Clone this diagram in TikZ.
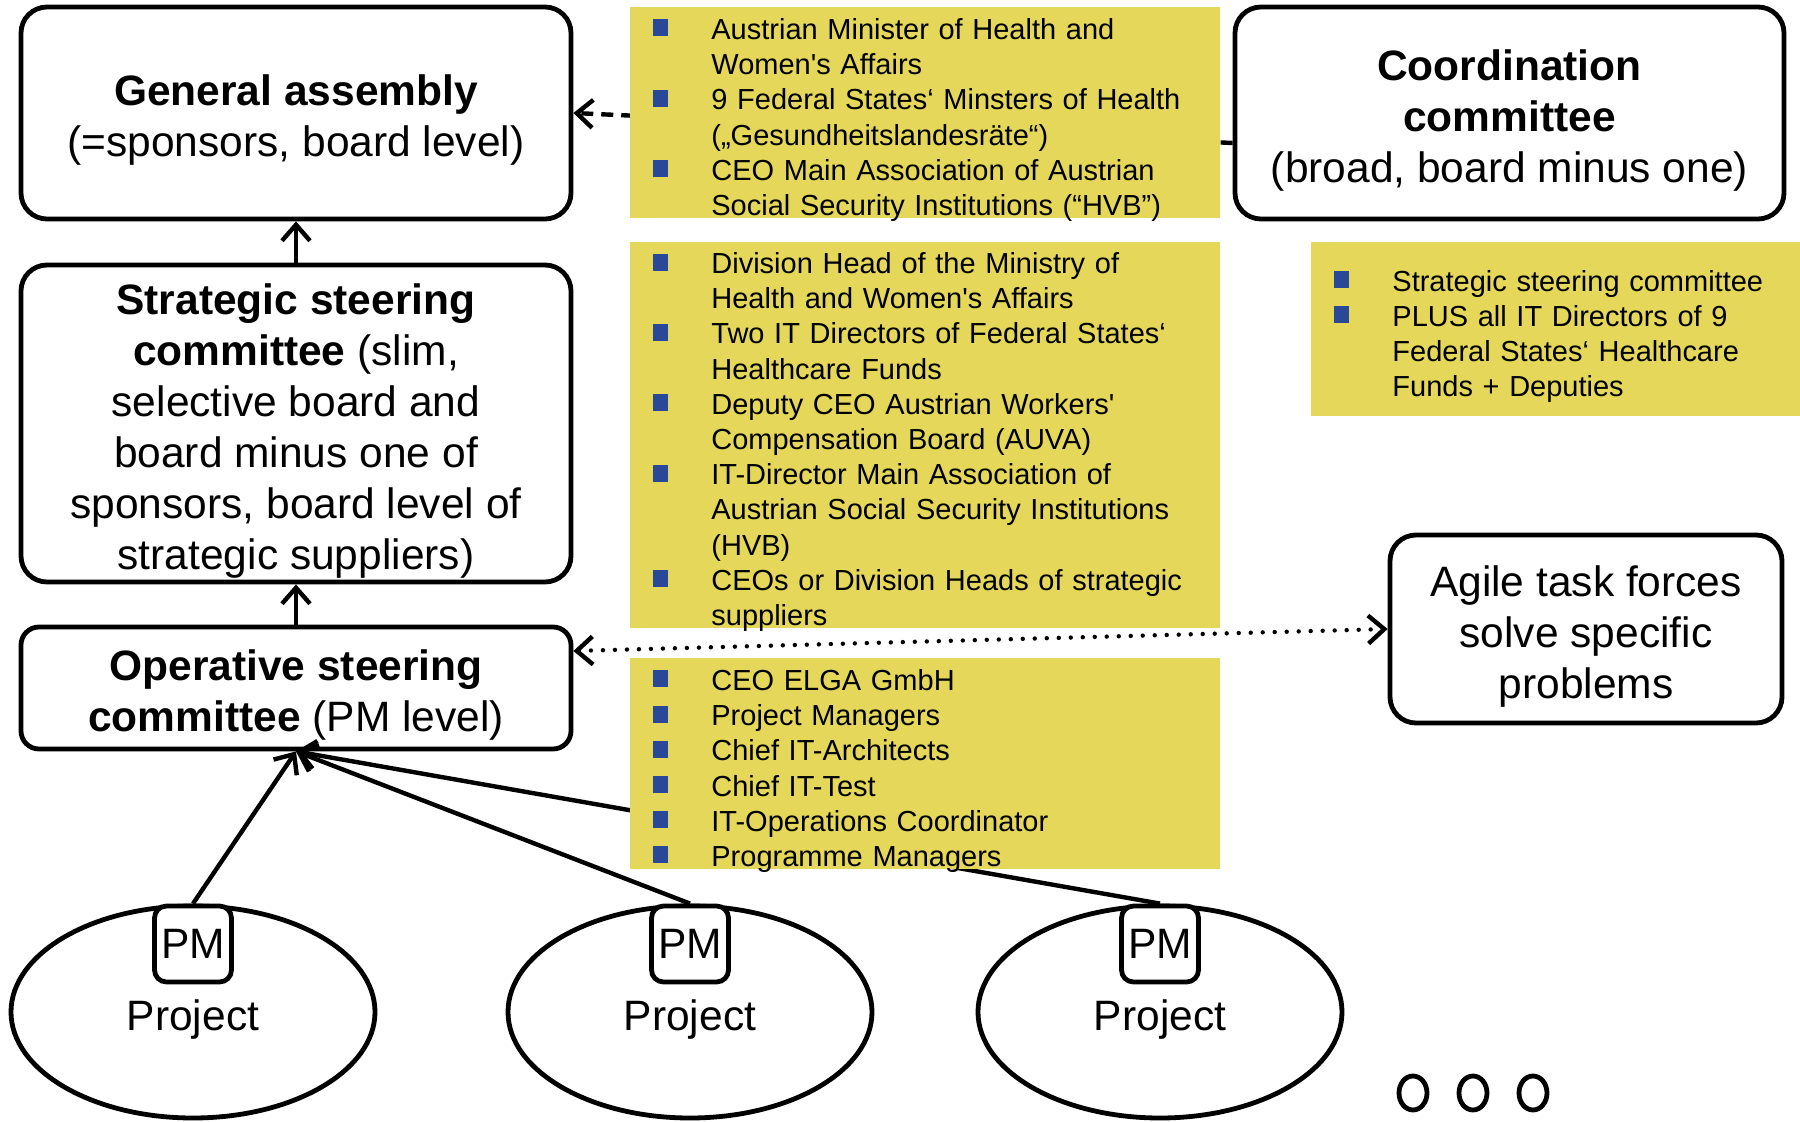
\documentclass[tikz,border=0pt]{standalone}
\usepackage{fontspec}
\setmainfont{Liberation Sans}[Ligatures=TeXOff]
\usetikzlibrary{arrows.meta,shapes.geometric}

\definecolor{listyellow}{RGB}{228,215,90}
\definecolor{bulletblue}{RGB}{41,72,152}

\newcommand{\bigfont}{\fontsize{21.25pt}{25.5pt}\selectfont}
\newcommand{\listfont}{\fontsize{14.5pt}{17.6pt}\selectfont}
\newcommand{\lowr}{\rule{0pt}{22.5pt}}
\newcommand{\sqbullet}{\textcolor{bulletblue}{\rule[1.5pt]{7.5pt}{8.5pt}}}
\newenvironment{memberlist}{%
	\begin{list}{\sqbullet}{%
		\setlength{\leftmargin}{40.5pt}%
		\setlength{\labelwidth}{40.5pt}%
		\setlength{\labelsep}{0pt}%
		\setlength{\topsep}{0pt}%
		\setlength{\partopsep}{0pt}%
		\setlength{\itemsep}{0pt}%
		\setlength{\parsep}{0pt}%
		\renewcommand{\makelabel}[1]{\hspace*{11.5pt}##1\hfill}}\raggedright}
	{\end{list}}

\begin{document}
\begin{tikzpicture}[
	x=0.5pt, y=-0.5pt,
	board/.style={
		rectangle,
		draw=black,
		line width=2.4pt,
		rounded corners=13pt,
		fill=white,
		align=center,
		inner sep=0pt,
		font=\bigfont
	},
	members/.style={
		rectangle,
		fill=listyellow,
		anchor=north west,
		text width=295pt,
		inner xsep=0pt,
		inner ysep=-2pt,
		font=\listfont
	},
	project/.style={
		ellipse,
		draw=black,
		line width=2.4pt,
		fill=white,
		inner sep=0pt,
		minimum width=182pt,
		minimum height=106pt,
		font=\bigfont
	},
	pmbox/.style={
		rectangle,
		draw=black,
		line width=2.4pt,
		rounded corners=6pt,
		fill=white,
		anchor=north,
		inner sep=0pt,
		minimum width=38.5pt,
		minimum height=38pt,
		font=\bigfont
	},
	more/.style={
		ellipse,
		draw=black,
		line width=2.4pt,
		inner sep=0pt,
		minimum width=14pt,
		minimum height=17pt
	},
	link/.style={
		line width=2.2pt,
		-{Straight Barb[length=8pt,width=14pt]}
	},
]
\useasboundingbox (0,0) rectangle (1800,1122);

\node[board, minimum width=275pt, minimum height=106pt] (general) at (296,113)
{\lowr\textbf{General assembly}\\(=sponsors, board level)};
\node[board, minimum width=274.5pt, minimum height=106pt] (coord) at (1509.5,113)
{\lowr\textbf{Coordination}\\\textbf{committee}\\(broad, board minus one)};
\node[board, minimum width=275pt, minimum height=158.5pt] (strategic) at (296,423.5)
{\lowr\textbf{Strategic steering}\\\textbf{committee} (slim,\\selective board and\\board minus one of\\sponsors, board level of\\strategic suppliers)};
\node[board, minimum width=275pt, minimum height=61pt, rounded corners=9pt] (operative) at (296,688)
{\lowr\textbf{Operative steering}\\\textbf{committee} (PM level)};
\node[board, minimum width=196pt, minimum height=94pt] (agile) at (1586,629)
{\lowr Agile task forces\\solve specific\\problems};

\node[project] (proj1) at (193,1012) {\lowr Project};
\node[project] (proj2) at (690,1012) {\lowr Project};
\node[project] (proj3) at (1160,1012) {\lowr Project};
\node[pmbox] (pm1) at (proj1.north) {PM};
\node[pmbox] (pm2) at (proj2.north) {PM};
\node[pmbox] (pm3) at (proj3.north) {PM};

\node[more] (more1) at (1413,1093) {};
\node[more] (more2) at (1473,1093) {};
\node[more] (more3) at (1533,1093) {};

\draw[link] (strategic.north) -- (general.south);
\draw[link] (operative.north) -- (strategic.south);
\draw[link] (pm1.north) -- (operative.south);
\draw[link] (pm2.north) -- (operative.south);
\draw[link] (pm3.north) -- (operative.south);

\coordinate (coordin) at ([yshift=-15pt]coord.west);
\draw[link, dash pattern=on 6pt off 4pt] (coordin) -- (general.east);
\coordinate (opin) at ([yshift=18.5pt]operative.east);
\draw[line width=2.2pt, line cap=round, dash pattern=on 0pt off 6pt,
	{Straight Barb[length=8pt,width=14pt]}-{Straight Barb[length=8pt,width=14pt]}] (opin) -- (agile.west);

% member lists
\node[members, minimum height=105.5pt] (boardmembers) at (630,7) {\begin{memberlist}
\item Austrian Minister of Health and\newline Women's Affairs
\item 9 Federal States‘ Minsters of Health\newline („Gesundheitslandesräte“)
\item CEO Main Association of Austrian\newline Social Security Institutions (“HVB”)
\end{memberlist}};
\node[members, minimum height=192.5pt] (steermembers) at (630,242) {\begin{memberlist}
\item Division Head of the Ministry of\newline Health and Women's Affairs
\item Two IT Directors of Federal States‘\newline Healthcare Funds
\item Deputy CEO Austrian Workers'\newline Compensation Board (AUVA)
\item IT-Director Main Association of\newline Austrian Social Security Institutions\newline (HVB)
\item CEOs or Division Heads of strategic\newline suppliers
\end{memberlist}};
\node[members, text width=244.5pt, minimum height=87pt] (coordmembers) at (1311,242) {\begin{memberlist}
\item Strategic steering committee
\item PLUS all IT Directors of 9\newline Federal States‘ Healthcare\newline Funds + Deputies
\end{memberlist}};
\node[members, minimum height=105.5pt] (opmembers) at (630,658) {\begin{memberlist}
\item CEO ELGA GmbH
\item Project Managers
\item Chief IT-Architects
\item Chief IT-Test
\item IT-Operations Coordinator
\item Programme Managers
\end{memberlist}};

\end{tikzpicture}
\end{document}
